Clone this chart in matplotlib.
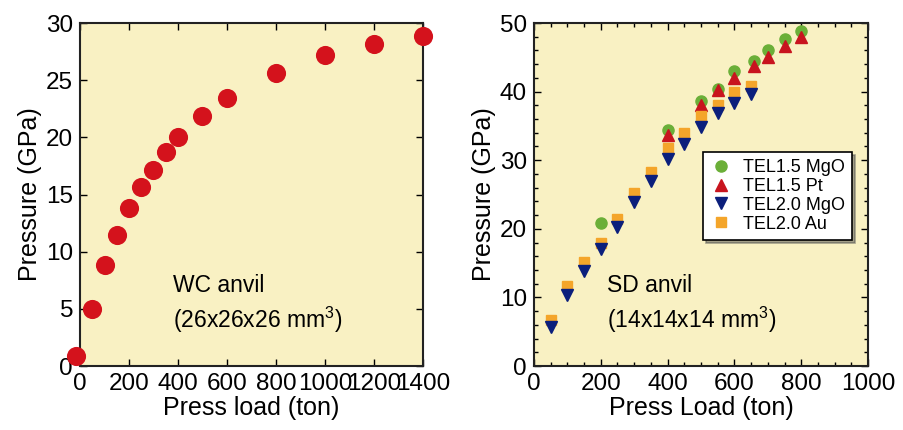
import matplotlib.pyplot as plt
from matplotlib.ticker import MultipleLocator

plt.rcParams['font.family'] = ['Liberation Sans', 'DejaVu Sans']

# WC anvil data
wc_load = [-15, 50, 100, 150, 200, 250, 300, 350, 400, 500, 600, 800, 1000, 1200, 1400]
wc_pressure = [0.9, 5.0, 8.8, 11.5, 13.85, 15.7, 17.15, 18.75, 20.0, 21.9, 23.4, 25.6, 27.2, 28.2, 28.9]

# SD anvil data
tel15_mgo_load = [200, 400, 500, 550, 600, 660, 700, 750, 800]
tel15_mgo_p = [20.8, 34.4, 38.7, 40.4, 43.0, 44.5, 46.1, 47.6, 48.8]

tel15_pt_load = [400, 500, 550, 600, 660, 700, 750, 800]
tel15_pt_p = [33.7, 38.0, 40.2, 42.0, 43.8, 45.0, 46.6, 47.9]

tel20_mgo_load = [50, 100, 150, 200, 250, 300, 350, 400, 450, 500, 550, 600, 650]
tel20_mgo_p = [5.7, 10.3, 13.8, 17.0, 20.3, 23.9, 26.9, 30.2, 32.3, 34.9, 36.9, 38.3, 39.6]

tel20_au_load = [50, 100, 150, 200, 250, 300, 350, 400, 450, 500, 550, 600, 650]
tel20_au_p = [6.75, 11.6, 15.1, 17.9, 21.5, 25.2, 28.3, 31.8, 33.9, 36.4, 38.0, 39.9, 40.8]

bg = '#F9F1C3'

fig = plt.figure(figsize=(9.04, 4.30), dpi=100)
ax1 = fig.add_axes([0.0885, 0.1488, 0.3794, 0.7977])
ax2 = fig.add_axes([0.5907, 0.1488, 0.3695, 0.7977])

for ax in (ax1, ax2):
    ax.set_facecolor(bg)
    for s in ax.spines.values():
        s.set_linewidth(1.5)
        s.set_color('#222222')
    ax.tick_params(which='both', direction='in', top=True, right=True, labelsize=17.5, pad=5)
    ax.tick_params(which='major', length=5, width=1)
    ax.tick_params(which='minor', length=3, width=1)

# Left panel
ax1.scatter(wc_load, wc_pressure, s=190, color='#D4121C', zorder=5, clip_on=False, linewidths=0)
ax1.set_xlim(0, 1400)
ax1.set_ylim(0, 30)
ax1.xaxis.set_major_locator(MultipleLocator(200))
ax1.yaxis.set_major_locator(MultipleLocator(5))
ax1.set_xlabel('Press load (ton)', fontsize=18, labelpad=1)
ax1.set_ylabel('Pressure (GPa)', fontsize=18, labelpad=3)
ax1.text(380, 3.3, 'WC anvil\n(26x26x26 mm$^{\\mathregular{3}}$)', fontsize=16.5, linespacing=1.35)

# Right panel
ax2.plot(tel15_mgo_load, tel15_mgo_p, 'o', ms=8, color='#6BAF38', label='TEL1.5 MgO', zorder=3)
ax2.plot(tel15_pt_load, tel15_pt_p, '^', ms=9, color='#C8141E', label='TEL1.5 Pt', zorder=4)
ax2.plot(tel20_au_load, tel20_au_p, 's', ms=7.5, color='#F4A52A', zorder=5)
ax2.plot(tel20_mgo_load, tel20_mgo_p, 'v', ms=9, color='#0B1F7C', label='TEL2.0 MgO', zorder=6)
ax2.plot([], [], 's', ms=7.5, color='#F4A52A', label='TEL2.0 Au')
ax2.set_xlim(0, 1000)
ax2.set_ylim(0, 50)
ax2.xaxis.set_major_locator(MultipleLocator(200))
ax2.xaxis.set_minor_locator(MultipleLocator(50))
ax2.yaxis.set_major_locator(MultipleLocator(10))
ax2.yaxis.set_minor_locator(MultipleLocator(2))
ax2.set_xlabel('Press Load (ton)', fontsize=18, labelpad=1)
ax2.set_ylabel('Pressure (GPa)', fontsize=18, labelpad=3)
ax2.text(220, 5.5, 'SD anvil\n(14x14x14 mm$^{\\mathregular{3}}$)', fontsize=16.5, linespacing=1.35)

leg = ax2.legend(loc='upper left', bbox_to_anchor=(0.506, 0.624), borderaxespad=0, fontsize=13,
                 frameon=True, fancybox=False, shadow=True, edgecolor='black', framealpha=1,
                 handletextpad=0.6, borderpad=0.4, labelspacing=0.1, handlelength=1.2)
leg.get_frame().set_linewidth(1.2)

fig.savefig('out.png', dpi=100)
